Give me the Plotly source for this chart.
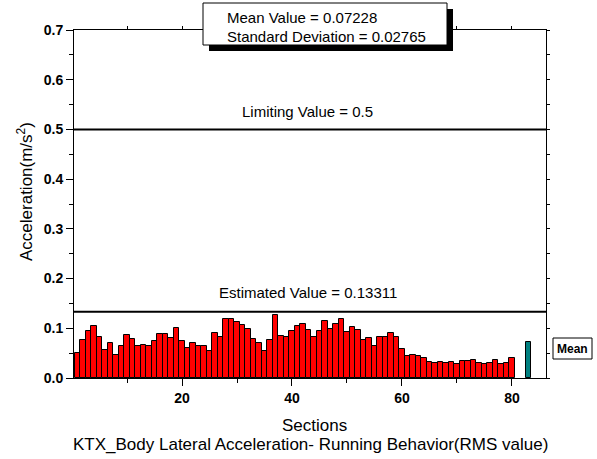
import plotly.graph_objects as go

# RMS lateral body acceleration per section (m/s^2)
sections = list(range(1, 81))
rms_accel = [
    0.051, 0.077, 0.095, 0.105, 0.083, 0.057, 0.071, 0.047, 0.065, 0.087,
    0.079, 0.064, 0.067, 0.064, 0.075, 0.089, 0.089, 0.081, 0.101, 0.075,
    0.060, 0.071, 0.065, 0.065, 0.055, 0.091, 0.083, 0.119, 0.118, 0.113,
    0.107, 0.099, 0.079, 0.071, 0.055, 0.077, 0.126, 0.084, 0.083, 0.094,
    0.105, 0.109, 0.097, 0.083, 0.095, 0.115, 0.098, 0.109, 0.119, 0.093,
    0.103, 0.097, 0.076, 0.081, 0.064, 0.083, 0.082, 0.090, 0.083, 0.059,
    0.045, 0.046, 0.044, 0.041, 0.033, 0.030, 0.033, 0.031, 0.033, 0.029,
    0.034, 0.034, 0.037, 0.031, 0.029, 0.031, 0.037, 0.028, 0.030, 0.041,
]
mean_x = [83]
mean_value = 0.07228
std_dev = 0.02765
limiting_value = 0.5
estimated_value = 0.13311

W, H = 597, 459
L, R, T, B = 74, 546, 30, 378  # plot area in pixels
FONT = "Liberation Sans, Arial, sans-serif"


def px(x):
    return (x - L) / (R - L)


def py(y):
    return (B - y) / (B - T)


fig = go.Figure()
fig.add_trace(go.Bar(
    x=sections, y=rms_accel, width=1.0,
    marker=dict(color="#ff0000", line=dict(color="black", width=1)),
    showlegend=False,
))
fig.add_trace(go.Bar(
    x=mean_x, y=[mean_value], width=1.0,
    marker=dict(color="#008080", line=dict(color="black", width=1)),
    showlegend=False,
))
# carrier trace for the secondary (top/right) tick axes
fig.add_trace(go.Scatter(x=[None], y=[None], xaxis="x2", yaxis="y2",
                         showlegend=False, hoverinfo="skip"))

shapes = []
for val in (limiting_value, estimated_value):
    shapes.append(dict(type="line", xref="paper", yref="y", x0=0, x1=1,
                       y0=val, y1=val, line=dict(color="black", width=2),
                       layer="above"))
# statistics box with drop shadow
shapes.append(dict(type="rect", xref="paper", yref="paper",
                   x0=px(209), x1=px(453), y0=py(51), y1=py(9),
                   fillcolor="black", line=dict(width=0), layer="above"))
shapes.append(dict(type="rect", xref="paper", yref="paper",
                   x0=px(203), x1=px(447), y0=py(45), y1=py(3),
                   fillcolor="white", line=dict(color="black", width=1),
                   layer="above"))
# "Mean" label box
shapes.append(dict(type="rect", xref="paper", yref="paper",
                   x0=px(553), x1=px(592), y0=py(359), y1=py(338),
                   fillcolor="white", line=dict(color="black", width=1),
                   layer="above"))

annotations = [
    dict(text=f"Mean Value = {mean_value}", xref="paper", yref="paper",
         x=px(225), y=py(17), xanchor="left", yanchor="middle",
         showarrow=False, font=dict(size=15, family=FONT, color="black")),
    dict(text=f"Standard Deviation = {std_dev}", xref="paper", yref="paper",
         x=px(225), y=py(36), xanchor="left", yanchor="middle",
         showarrow=False, font=dict(size=15, family=FONT, color="black")),
    dict(text=f"Limiting Value = {limiting_value}", xref="paper", yref="y",
         x=px(307), y=limiting_value, yshift=18, xanchor="center",
         yanchor="middle", showarrow=False,
         font=dict(size=15, family=FONT, color="black")),
    dict(text=f"Estimated Value = {estimated_value}", xref="paper", yref="y",
         x=px(308), y=estimated_value, yshift=19, xanchor="center",
         yanchor="middle", showarrow=False,
         font=dict(size=15, family=FONT, color="black")),
    dict(text="Mean", xref="paper", yref="paper", x=px(572.5), y=py(348.5),
         xanchor="center", yanchor="middle", showarrow=False,
         font=dict(size=12, family=FONT, color="black", weight="bold")),
    dict(text="Acceleration(m/s<sup>2</sup>)", xref="paper", yref="paper",
         x=px(25), y=py(192), xanchor="center", yanchor="middle",
         textangle=-90, showarrow=False,
         font=dict(size=17, family=FONT, color="black")),
    dict(text="Sections", xref="paper", yref="paper", x=px(314), y=py(425),
         xanchor="center", yanchor="middle", showarrow=False,
         font=dict(size=17, family=FONT, color="black")),
    dict(text="KTX_Body Lateral Acceleration- Running Behavior(RMS value)",
         xref="paper", yref="paper", x=px(310), y=py(444),
         xanchor="center", yanchor="middle", showarrow=False,
         font=dict(size=17, family=FONT, color="black")),
]

xrange = [0.35, 86.2]
yrange = [0, 0.7]
tickfont = dict(size=14, family=FONT, color="black", weight="bold")

fig.update_layout(
    width=W, height=H,
    margin=dict(l=L, r=W - R, t=T, b=H - B, pad=0),
    paper_bgcolor="white", plot_bgcolor="white",
    bargap=0, barmode="overlay",
    shapes=shapes, annotations=annotations,
    xaxis=dict(range=xrange, tickvals=[20, 40, 60, 80], ticks="outside",
               ticklen=7, tickwidth=1, tickcolor="black",
               minor=dict(tickvals=[10, 30, 50, 70], ticks="outside",
                          ticklen=4, tickcolor="black"),
               showline=True, linecolor="black", linewidth=1, mirror=True,
               showgrid=False, zeroline=False, tickfont=tickfont),
    yaxis=dict(range=yrange, dtick=0.1, tickformat=".1f", ticks="outside",
               ticklen=7, tickwidth=1, tickcolor="black",
               minor=dict(dtick=0.05, ticks="outside", ticklen=4,
                          tickcolor="black"),
               showline=True, linecolor="black", linewidth=1, mirror=True,
               showgrid=False, zeroline=False, tickfont=tickfont),
    xaxis2=dict(range=xrange, overlaying="x", side="top", dtick=10,
                ticks="outside", ticklen=3, tickcolor="black",
                showticklabels=False, showgrid=False, zeroline=False,
                showline=False),
    yaxis2=dict(range=yrange, overlaying="y", side="right", dtick=0.05,
                ticks="outside", ticklen=3, tickcolor="black",
                showticklabels=False, showgrid=False, zeroline=False,
                showline=False),
)

fig.write_html("out.html")
